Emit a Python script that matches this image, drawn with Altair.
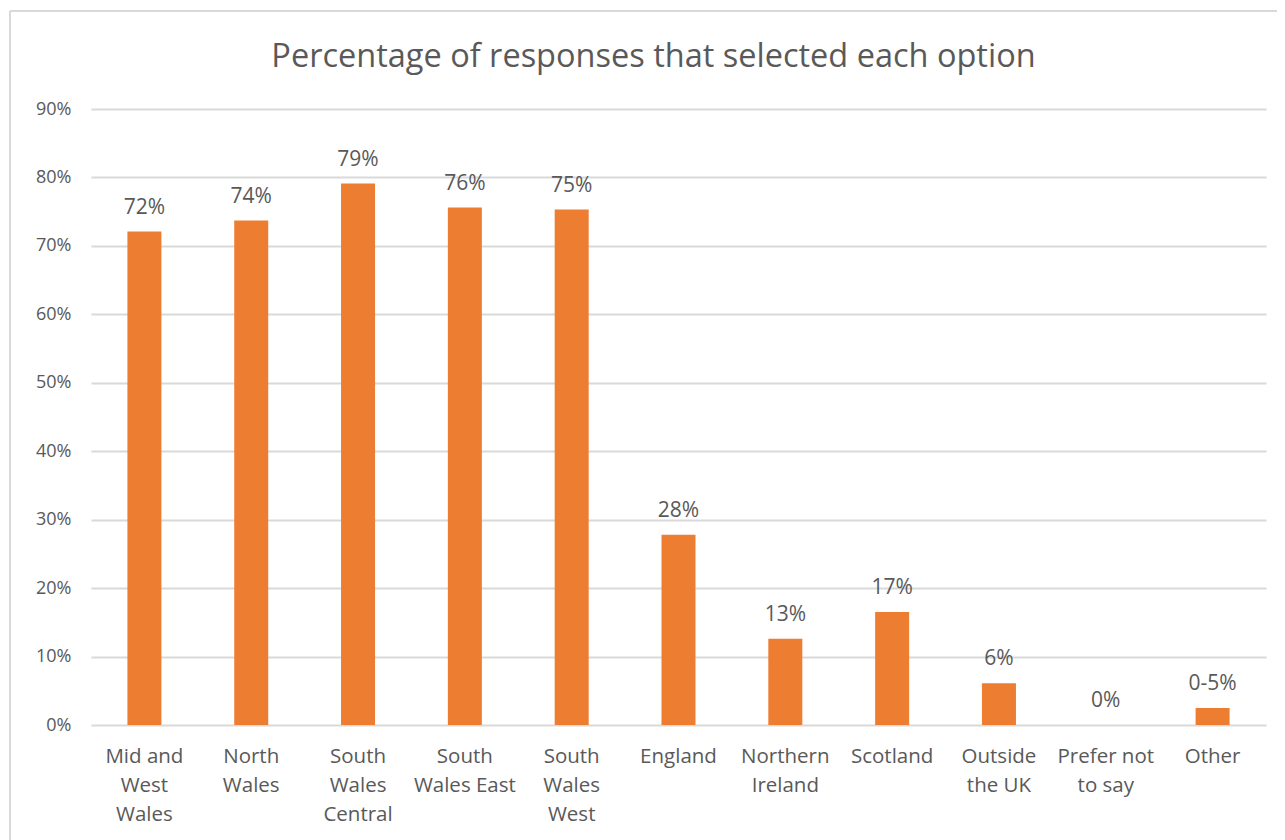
import altair as alt
import pandas as pd

categories = ["Mid and West Wales", "North Wales", "South Wales Central", "South Wales East",
              "South Wales West", "England", "Northern Ireland", "Scotland",
              "Outside the UK", "Prefer not to say", "Other"]
wrapped = ["Mid and|West|Wales", "North|Wales", "South|Wales|Central", "South|Wales East",
           "South|Wales|West", "England", "Northern|Ireland", "Scotland",
           "Outside|the UK", "Prefer not|to say", "Other"]
values = [0.721, 0.737, 0.791, 0.756, 0.753, 0.278, 0.126, 0.165, 0.061, 0.0, 0.025]
value_labels = ["72%", "74%", "79%", "76%", "75%", "28%", "13%", "17%", "6%", "0%", "0-5%"]

df = pd.DataFrame({"category": categories, "label": wrapped, "value": values, "text": value_labels})

W, H = 1175, 616
FONT = "Open Sans"
GREY = "#595959"

x = alt.X("label:N", sort=wrapped, title=None,
          scale=alt.Scale(paddingInner=0, paddingOuter=0),
          axis=alt.Axis(labelExpr="split(datum.value, '|')", labelAngle=0, labelFontSize=20.5,
                        labelColor=GREY, labelFont=FONT, labelPadding=21, labelLineHeight=29,
                        ticks=False, domain=False, labelBaseline="top"))
y = alt.Y("value:Q", title=None,
          scale=alt.Scale(domain=[0, 0.9], nice=False),
          axis=alt.Axis(format=".0%", values=[i / 10 for i in range(10)], labelFontSize=18,
                        labelColor=GREY, labelFont=FONT, labelPadding=20, ticks=False,
                        domain=False, gridColor="#d9d9d9", gridWidth=2))

base = alt.Chart(df)
bars = base.mark_bar(color="#ED7D31", size=34).encode(x=x, y=y)
texts = base.mark_text(baseline="alphabetic", dy=-18, fontSize=21, color=GREY, font=FONT).encode(
    x=x, y=y, text="text:N")

frame_top = base.mark_rule(color="#d9d9d9", strokeWidth=2).encode(
    x=alt.value(-81), x2=alt.value(W + 20), y=alt.value(-98))
frame_left = base.mark_rule(color="#d9d9d9", strokeWidth=2).encode(
    x=alt.value(-81), y=alt.value(-98), y2=alt.value(H + 120))

chart = alt.layer(frame_top, frame_left, bars, texts).properties(
    width=W, height=H,
    autosize=alt.AutoSizeParams(type="none"),
    padding={"left": 83, "top": 101, "right": 11, "bottom": 115},
    title=alt.TitleParams("Percentage of responses that selected each option",
                          fontSize=32.5, font=FONT, fontWeight="normal", color=GREY,
                          anchor="middle", frame="group", baseline="alphabetic",
                          dx=-25, offset=-89),
).configure_view(stroke=None)

chart.save("out.html", embed_options={"renderer": "svg", "actions": False})
